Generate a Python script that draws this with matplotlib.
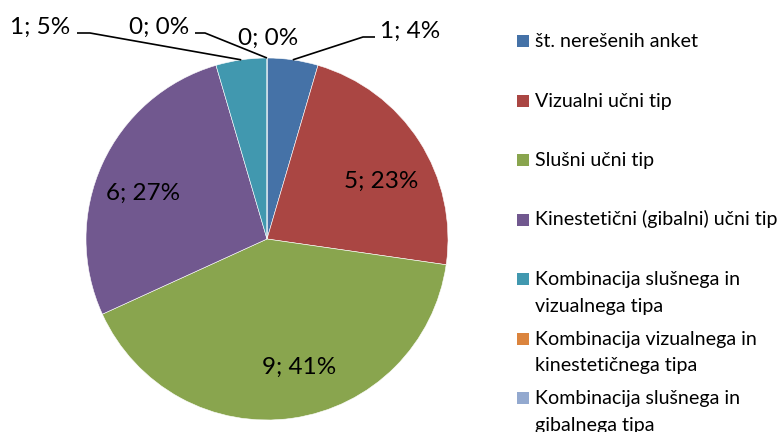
import matplotlib
matplotlib.use("Agg")
import matplotlib.pyplot as plt
from matplotlib.patches import Rectangle
import numpy as np

plt.rcParams['font.family'] = ['Lato', 'DejaVu Sans']

categories = [
    "št. nerešenih anket",
    "Vizualni učni tip",
    "Slušni učni tip",
    "Kinestetični (gibalni) učni tip",
    "Kombinacija slušnega in\nvizualnega tipa",
    "Kombinacija vizualnega in\nkinestetičnega tipa",
    "Kombinacija slušnega in\ngibalnega tipa",
]
values = [1, 5, 9, 6, 1, 0, 0]
percent_labels = ["4%", "23%", "41%", "27%", "5%", "0%", "0%"]
colors = ["#4572A7", "#AA4643", "#89A54E", "#71588F", "#4198AF", "#DB843D", "#93A9CF"]

W, H = 783, 432
fig = plt.figure(figsize=(W / 100, H / 100), dpi=100)
ax = fig.add_axes([0, 0, 1, 1])

cx, cy, R = 267, 239, 181
wedges, _ = ax.pie(values, colors=colors, startangle=-90, counterclock=True,
                   center=(cx, cy), radius=R,
                   wedgeprops=dict(edgecolor="white", linewidth=0.4))
ax.set_xlim(0, W)
ax.set_ylim(H, 0)
ax.set_aspect("equal")
ax.axis("off")

labels = [f"{v}; {p}" for v, p in zip(values, percent_labels)]

layout = {
    0: dict(xy=(380, 31), ha="left", elbow=(375, 363)),
    1: dict(xy=(381, 181), ha="center", elbow=None),
    2: dict(xy=(299, 367), ha="center", elbow=None),
    3: dict(xy=(143, 193), ha="center", elbow=None),
    4: dict(xy=(70, 27), ha="right", elbow=(77, 90)),
    5: dict(xy=(268, 38), ha="center", elbow=None),
    6: dict(xy=(189, 27), ha="right", elbow=(195, 205)),
}
label_fs = 17.5
for i, w in enumerate(wedges):
    L = layout[i]
    x, y = L["xy"]
    ax.text(x, y, labels[i], ha=L["ha"], va="center", fontsize=label_fs, color="black")
    if L["elbow"] is not None:
        th = np.deg2rad((w.theta1 + w.theta2) / 2)
        px = cx + R * np.cos(th)
        py = cy + R * np.sin(th)
        ly = y + 6
        ax.plot([L["elbow"][0], L["elbow"][1], px], [ly, ly, py],
                color="black", lw=1.2, solid_capstyle="butt")

leg_fs = 14.1
y0, step, line_h = 41, 59.5, 27
for i, (lab, col) in enumerate(zip(categories, colors)):
    yc = y0 + i * step
    ax.add_patch(Rectangle((517, yc - 6), 12, 12, facecolor=col, edgecolor="none"))
    for j, line in enumerate(lab.split("\n")):
        ax.text(535, yc + j * line_h + 6, line, ha="left", va="baseline",
                fontsize=leg_fs, color="black")

fig.savefig("out.png", dpi=100)
